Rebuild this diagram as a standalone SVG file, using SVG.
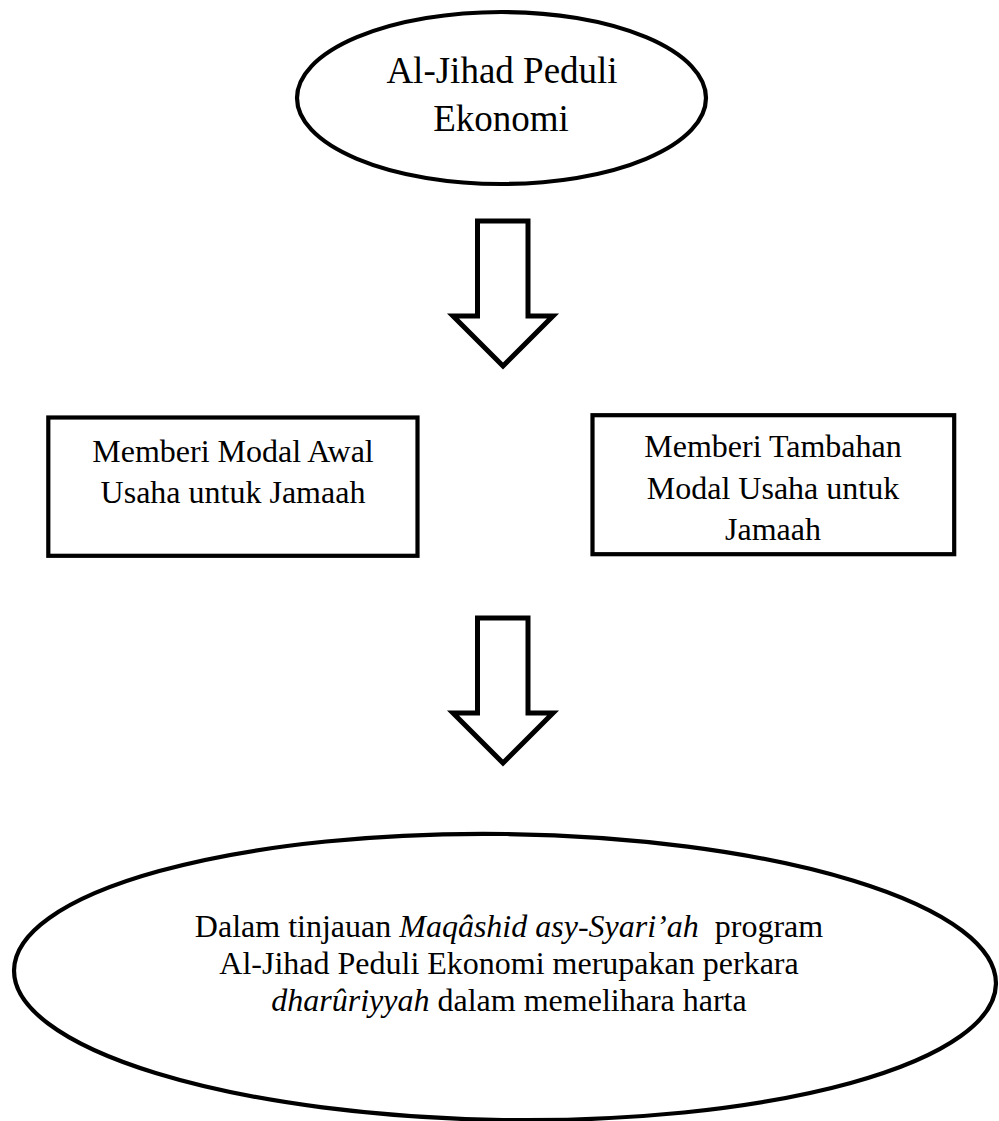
<svg xmlns="http://www.w3.org/2000/svg" width="999" height="1121" viewBox="0 0 999 1121">
<style>
.shape{fill:#fff;stroke:#000;stroke-width:4.2}
.arrow{fill:#fff;stroke:#000;stroke-width:5;stroke-linejoin:miter;stroke-miterlimit:10}
.t{font-family:"Liberation Serif","Times New Roman",serif;fill:#000;text-anchor:middle}
.t37{font-size:37px}
.t32{font-size:32px}
.i{font-style:italic}
</style>
<rect width="999" height="1121" fill="#fff"/>
<g id="node-top">
<ellipse class="shape" cx="501.5" cy="98" rx="204.5" ry="86"/>
<text class="t t37" x="502" y="83">Al-Jihad Peduli</text>
<text class="t t37" x="501" y="131">Ekonomi</text>
</g>
<g id="connectors">
<polygon id="arrow1" class="arrow" points="477.5,221 528,221 528,316 553,316 503,366 453,316 477.5,316"/>
<polygon id="arrow2" class="arrow" points="477.5,618 528,618 528,713 553,713 503,763 453,713 477.5,713"/>
</g>
<g id="node-left">
<rect class="shape" x="48.3" y="417.5" width="369.2" height="138.3"/>
<text class="t t32" x="233" y="461.5">Memberi Modal Awal</text>
<text class="t t32" x="233" y="503">Usaha untuk Jamaah</text>
</g>
<g id="node-right">
<rect class="shape" x="592.5" y="415.2" width="361.7" height="139"/>
<text class="t t32" x="773" y="457">Memberi Tambahan</text>
<text class="t t32" x="773" y="498.5">Modal Usaha untuk</text>
<text class="t t32" x="773" y="540">Jamaah</text>
</g>
<g id="node-bottom">
<ellipse class="shape" cx="505" cy="977" rx="491" ry="143" transform="rotate(0.8 505 977)"/>
<text class="t t32" x="509" y="937" xml:space="preserve">Dalam tinjauan <tspan class="i">Maqâshid asy-Syari’ah</tspan>  program</text>
<text class="t t32" x="509" y="974">Al-Jihad Peduli Ekonomi merupakan perkara</text>
<text class="t t32" x="509" y="1011"><tspan class="i">dharûriyyah</tspan> dalam memelihara harta</text>
</g>
</svg>
